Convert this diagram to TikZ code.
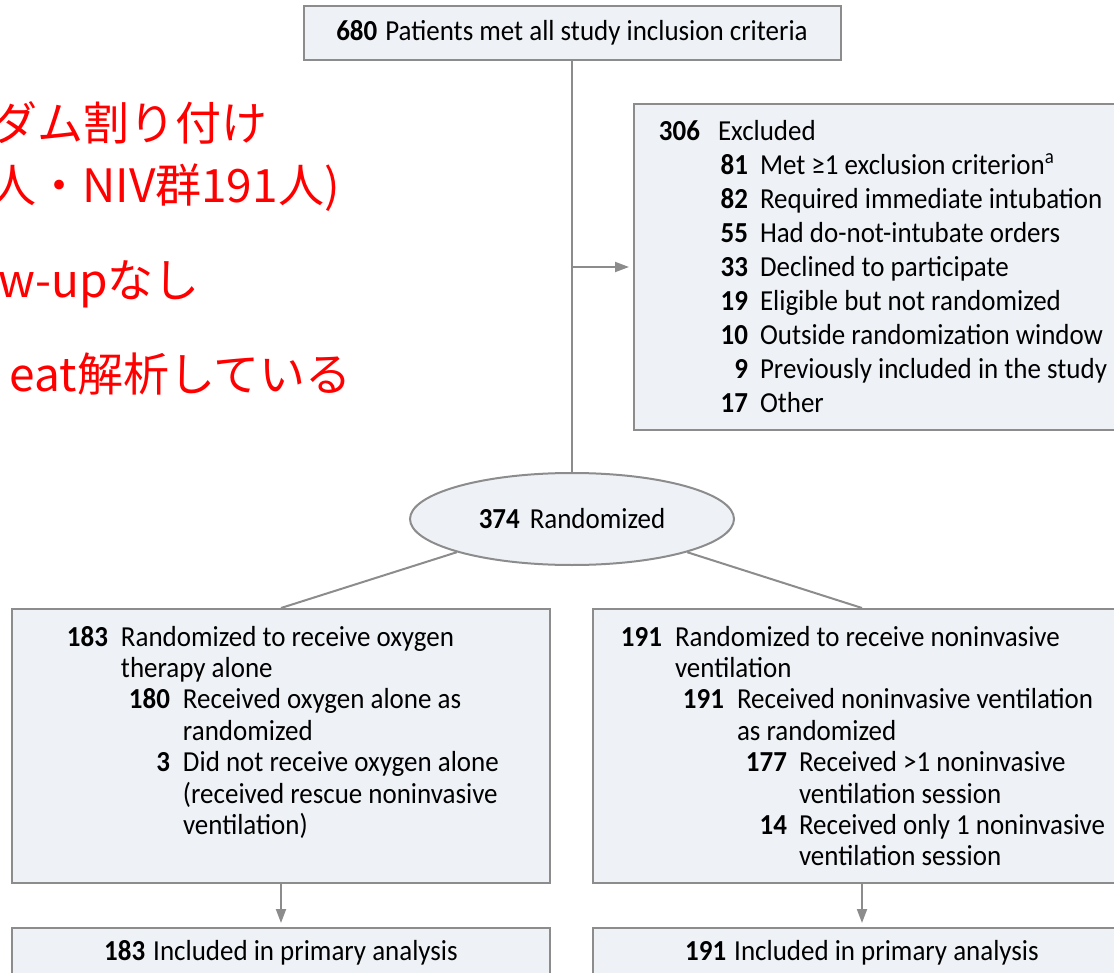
\documentclass[tikz,border=0pt]{standalone}
\usepackage{fontspec}
\setmainfont{Carlito}[FakeStretch=0.93]
\newfontfamily\jpfont{Noto Sans CJK JP}
\usetikzlibrary{positioning,arrows.meta,shapes.geometric}
\definecolor{boxclr}{HTML}{EEF2F6}
\definecolor{lineclr}{HTML}{8C8C8C}
\definecolor{noteclr}{HTML}{FF0000}
\newcommand\cnt[2]{\makebox[#1][r]{\bfseries #2}}

\begin{document}
\begin{tikzpicture}[
  x=0.5pt, y=-0.5pt,
  font=\fontsize{14.5}{17}\selectfont,
  box/.style={
    rectangle, draw=lineclr, line width=1pt, fill=boxclr, inner sep=0pt,
  },
  branch/.style={box, minimum width=269pt, minimum height=137pt},
  final/.style={box, minimum width=269pt, minimum height=25pt},
  oval/.style={
    ellipse, draw=lineclr, line width=1pt, fill=boxclr, inner sep=0pt,
    minimum width=162pt, minimum height=46pt,
  },
  link/.style={draw=lineclr, line width=1pt},
  arrow/.style={link, -{Triangle[length=7pt,width=5pt]}, shorten >=2pt},
  note/.style={font=\jpfont\fontsize{23}{27}\selectfont, text=noteclr,
    anchor=base east, inner sep=0pt},
]
\useasboundingbox (0,0) rectangle (1114,973);
\clip (0,0) rectangle (1114,973);

% Red notes (cut at the left edge)
\node[note] (note1) at (268,141) {ダム割り付け};
\node[note] (note2) at (340,203) {人・NIV群191人)};
\node[note] (note3) at (200,298) {w-upなし};
\node[note] (note4) at (352,392) {eat解析している};

% Enrollment
\node[box, minimum width=268.5pt, minimum height=27pt] (incl) at (572,33)
  {\textbf{680}\hspace{4pt}Patients met all study inclusion criteria};

% Exclusions
\node[box, minimum width=246pt, minimum height=163pt] (excl) at (880,267) {%
  \begin{minipage}[c][147pt][t]{232pt}
  \cnt{26pt}{306}\hspace{9pt}Excluded\\
  \cnt{50pt}{81}\hspace{6pt}Met ≥1 exclusion criterion\textsuperscript{a}\\
  \cnt{50pt}{82}\hspace{6pt}Required immediate intubation\\
  \cnt{50pt}{55}\hspace{6pt}Had do-not-intubate orders\\
  \cnt{50pt}{33}\hspace{6pt}Declined to participate\\
  \cnt{50pt}{19}\hspace{6pt}Eligible but not randomized\\
  \cnt{50pt}{10}\hspace{6pt}Outside randomization window\\
  \cnt{50pt}{9}\hspace{6pt}Previously included in the study\\
  \cnt{50pt}{17}\hspace{6pt}Other
  \end{minipage}};

% Randomization
\node[oval] (rand) at (572,519) {\textbf{374}\hspace{5pt}Randomized};

% Oxygen arm
\node[branch] (oxy) at (281,746) {%
  \begin{minipage}[c][120pt][t]{236pt}
  \fontsize{14.5}{15.7}\selectfont
  \cnt{31.5pt}{183}\hspace{6.5pt}Randomized to receive oxygen\\
  \hspace*{38pt}therapy alone\\
  \cnt{62.5pt}{180}\hspace{6.5pt}Received oxygen alone as\\
  \hspace*{69pt}randomized\\
  \cnt{62.5pt}{3}\hspace{6.5pt}Did not receive oxygen alone\\
  \hspace*{69pt}(received rescue noninvasive\\
  \hspace*{69pt}ventilation)
  \end{minipage}};

% NIV arm
\node[branch] (niv) at (862,746) {%
  \begin{minipage}[c][120pt][t]{259pt}
  \fontsize{14.5}{15.7}\selectfont
  \cnt{29.5pt}{191}\hspace{6.5pt}Randomized to receive noninvasive\\
  \hspace*{36pt}ventilation\\
  \cnt{60.5pt}{191}\hspace{6.5pt}Received noninvasive ventilation\\
  \hspace*{67pt}as randomized\\
  \cnt{92pt}{177}\hspace{6pt}Received >1 noninvasive\\
  \hspace*{98pt}ventilation session\\
  \cnt{92pt}{14}\hspace{6pt}Received only 1 noninvasive\\
  \hspace*{98pt}ventilation session
  \end{minipage}};

% Analysis
\node[final] (oxyan) at (281,953) {\textbf{183}\hspace{4pt}Included in primary analysis};
\node[final] (nivan) at (862,953) {\textbf{191}\hspace{4pt}Included in primary analysis};

% Connectors
\coordinate (split) at (incl.south |- excl.west);
\draw[link] (incl.south) -- (rand.north);
\draw[arrow] (split) -- (excl.west);
\draw[link] (rand.south west) -- (oxy.north);
\draw[link] (rand.south east) -- (niv.north);
\draw[arrow] (oxy.south) -- (oxyan.north);
\draw[arrow] (niv.south) -- (nivan.north);

\end{tikzpicture}
\end{document}
